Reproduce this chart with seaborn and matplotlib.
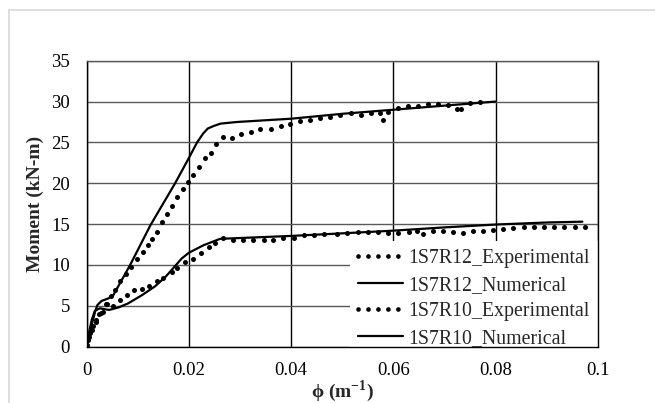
import matplotlib
matplotlib.use("Agg")
import matplotlib.pyplot as plt
from matplotlib.lines import Line2D
import seaborn as sns

# 1S7R12 experimental (dots)
r12_exp_phi = [0.00045, 0.00098, 0.00176, 0.00274, 0.00372, 0.0047, 0.0056, 0.0065,
               0.0076, 0.0086, 0.0099, 0.0110, 0.0119, 0.0128, 0.0137, 0.0147, 0.0157,
               0.0167, 0.0177, 0.0188, 0.0199, 0.0209, 0.0220, 0.0232, 0.0243, 0.0253,
               0.0266, 0.0284, 0.0302, 0.0321, 0.0340, 0.0360, 0.0380, 0.0398, 0.0417,
               0.0437, 0.0457, 0.0476, 0.0496, 0.0517, 0.0536, 0.0556, 0.0574, 0.0579,
               0.0590, 0.0610, 0.0629, 0.0649, 0.0668, 0.0688, 0.0708, 0.0724, 0.0732,
               0.0750, 0.0770]
r12_exp_m = [1.15, 2.04, 3.06, 4.08, 5.2, 6.2, 6.9, 8.0, 8.9, 9.8, 10.7, 11.6, 12.4,
             13.2, 14.0, 15.2, 16.3, 17.2, 18.3, 19.3, 20.2, 21.0, 22.0, 23.1, 23.7,
             24.8, 25.7, 25.5, 26.0, 26.3, 26.6, 26.6, 27.0, 27.25, 27.6, 27.8, 27.95,
             28.15, 28.3, 28.55, 28.35, 28.6, 28.6, 27.7, 28.75, 29.2, 29.4, 29.5,
             29.65, 29.7, 29.6, 29.1, 29.1, 29.8, 29.95]

# 1S7R12 numerical (solid)
r12_num_phi = [0, 0.0004, 0.0010, 0.0016, 0.0021, 0.0029, 0.0042, 0.0052, 0.0085,
               0.0125, 0.0173, 0.0200, 0.0216, 0.0228, 0.0237, 0.0248, 0.0262, 0.0294,
               0.0400, 0.0500, 0.0600, 0.0700, 0.0800]
r12_num_m = [0, 1.2, 2.7, 4.2, 5.1, 5.6, 5.9, 6.3, 10.0, 14.9, 20.0, 23.1, 25.0, 26.1,
             26.7, 27.0, 27.3, 27.5, 27.9, 28.5, 29.0, 29.5, 30.0]

# 1S7R10 experimental (dots)
r10_exp_phi = [0.0001, 0.0003, 0.0007, 0.0012, 0.0018, 0.0025, 0.0032, 0.0039, 0.0051,
               0.0065, 0.0079, 0.0093, 0.0108, 0.0121, 0.0137, 0.0150, 0.0166, 0.0177,
               0.0192, 0.0209, 0.0223, 0.0239, 0.0251, 0.0266, 0.0286, 0.0305, 0.0325,
               0.0346, 0.0365, 0.0385, 0.0405, 0.0426, 0.0445, 0.0465, 0.0489, 0.0510,
               0.0531, 0.0550, 0.0570, 0.0590, 0.0610, 0.0630, 0.0647, 0.0659, 0.0678,
               0.0697, 0.0717, 0.0736, 0.0756, 0.0776, 0.0796, 0.0815, 0.0835, 0.0855,
               0.0875, 0.0895, 0.0915, 0.0935, 0.0955, 0.0975]
r10_exp_m = [0.2, 0.8, 1.7, 2.5, 3.3, 4.0, 4.3, 5.2, 5.0, 5.7, 6.3, 6.9, 7.1, 7.4, 8.0,
             8.45, 9.2, 9.6, 10.4, 10.7, 11.5, 12.2, 12.7, 13.3, 13.05, 13.05, 13.05,
             13.1, 13.1, 13.35, 13.35, 13.65, 13.7, 13.8, 13.8, 13.95, 14.0, 14.0, 14.0,
             13.95, 13.95, 14.0, 14.1, 13.75, 14.1, 14.2, 14.0, 13.95, 14.1, 14.2, 14.3,
             14.35, 14.5, 14.6, 14.6, 14.7, 14.7, 14.7, 14.7, 14.7]

# 1S7R10 numerical (solid)
r10_num_phi = [0, 0.0004, 0.0010, 0.0016, 0.0026, 0.0034, 0.0044, 0.0062, 0.0081,
               0.0108, 0.0134, 0.0155, 0.0172, 0.0186, 0.0200, 0.0228, 0.0261, 0.0339,
               0.0398, 0.0509, 0.0600, 0.0700, 0.0800, 0.0900, 0.0970]
r10_num_m = [0, 1.6, 3.3, 4.4, 4.7, 4.6, 4.5, 4.8, 5.3, 6.3, 7.4, 8.6, 9.8, 10.8, 11.5,
             12.4, 13.2, 13.4, 13.55, 13.9, 14.2, 14.6, 14.95, 15.2, 15.3]

series_names = ["1S7R12_Experimental", "1S7R12_Numerical",
                "1S7R10_Experimental", "1S7R10_Numerical"]
x_ticks = [0, 0.02, 0.04, 0.06, 0.08, 0.1]
x_tick_labels = ["0", "0.02", "0.04", "0.06", "0.08", "0.1"]
y_ticks = [0, 5, 10, 15, 20, 25, 30, 35]

sns.set_theme(style="white")
plt.rcParams["font.family"] = ["Liberation Serif", "DejaVu Serif"]
plt.rcParams["mathtext.fontset"] = "custom"
plt.rcParams["mathtext.rm"] = "Liberation Serif"
plt.rcParams["mathtext.bf"] = "Liberation Serif:bold"

fig = plt.figure(figsize=(6.55, 4.03), dpi=100)
ax = fig.add_axes([86.7 / 655, 1 - 346.7 / 403, 511 / 655, 286 / 403])

dot_kw = dict(color="black", s=13, linewidth=0, marker="o", zorder=3)
line_kw = dict(color="black", linewidth=1.6, sort=False, estimator=None, zorder=3)

sns.scatterplot(x=r12_exp_phi, y=r12_exp_m, ax=ax, **dot_kw)
sns.lineplot(x=r12_num_phi, y=r12_num_m, ax=ax, **line_kw)
sns.scatterplot(x=r10_exp_phi, y=r10_exp_m, ax=ax, **dot_kw)
sns.lineplot(x=r10_num_phi, y=r10_num_m, ax=ax, **line_kw)

ax.set_xlim(0, 0.1)
ax.set_ylim(0, 35)
ax.set_xticks(x_ticks, x_tick_labels)
ax.set_yticks(y_ticks)
ax.tick_params(axis="both", length=0, labelsize=13.5, colors="black")
ax.tick_params(axis="y", pad=12)
ax.tick_params(axis="x", pad=11)

ax.xaxis.grid(True, color="black", linewidth=1.0)
ax.yaxis.grid(True, color="#595959", linewidth=1.0)
ax.set_axisbelow(True)
for name, sp in ax.spines.items():
    sp.set_visible(True)
    sp.set_color("black" if name != "top" else "#595959")
    sp.set_linewidth(1.0)
    sp.set_zorder(10)

ax.set_xlabel(r"ϕ (m$^{\mathbf{-1}}$)", fontsize=14, fontweight="bold")
ax.xaxis.set_label_coords(0.5, -0.112)
ax.set_ylabel("Moment (kN-m)", fontsize=14, fontweight="bold", labelpad=5.5)

dotted = dict(color="black", linewidth=3.4, linestyle=(0, (0.01, 2.1)),
              dash_capstyle="round")
solid = dict(color="black", linewidth=1.6)
handles = [Line2D([], [], **dotted), Line2D([], [], **solid),
           Line2D([], [], **dotted), Line2D([], [], **solid)]
leg = ax.legend(handles, series_names, loc="lower right", bbox_to_anchor=(1, -0.032),
                borderaxespad=0, frameon=True, fancybox=False, framealpha=1,
                facecolor="white", edgecolor="none", fontsize=14.3,
                handlelength=2.3, handletextpad=0.25, labelspacing=0.38,
                borderpad=0.4)
leg.set_zorder(5)

# light outer chart-area border
fig.add_artist(Line2D([9 / 655, 9 / 655], [0, 1 - 10 / 403], color="#d9d9d9",
                      linewidth=1.2))
fig.add_artist(Line2D([9 / 655, 1], [1 - 10 / 403, 1 - 10 / 403], color="#d9d9d9",
                      linewidth=1.2))

fig.savefig("out.png", dpi=100, facecolor="white")
